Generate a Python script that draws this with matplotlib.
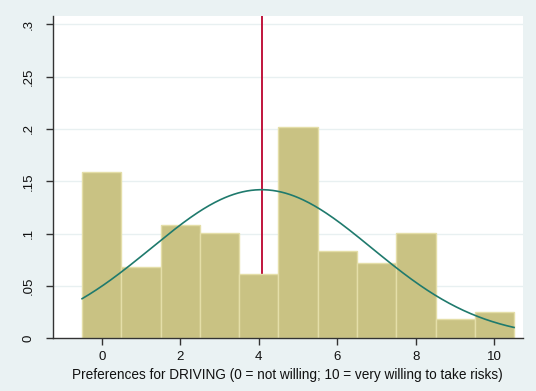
import numpy as np
import matplotlib
matplotlib.use("Agg")
import matplotlib.pyplot as plt

# Histogram of risk preferences (density per integer category)
categories = [0, 1, 2, 3, 4, 5, 6, 7, 8, 9, 10]
density = [0.159, 0.068, 0.108, 0.101, 0.061, 0.202, 0.083, 0.072, 0.101, 0.018, 0.025]

# Normal overlay and mean marker
mean_value = 4.07
sd_value = 2.81

xticks = [0, 2, 4, 6, 8, 10]
yticks = [0, 0.05, 0.1, 0.15, 0.2, 0.25, 0.3]
yticklabels = ["0", ".05", ".1", ".15", ".2", ".25", ".3"]
xlabel = "Preferences for DRIVING (0 = not willing; 10 = very willing to take risks)"

plt.rcParams["font.family"] = ["Liberation Sans", "DejaVu Sans"]

fig = plt.figure(figsize=(5.36, 3.91), dpi=100, facecolor="#EAF2F3")
ax = fig.add_axes([0.0989, 0.1348, 0.8763, 0.8250])
ax.set_facecolor("white")

# horizontal grid
for t in yticks[1:]:
    ax.axhline(t, color="#E8F0F1", lw=1.0, zorder=0)

# mean line (drawn behind bars)
ax.axvline(mean_value, color="#C0143C", lw=1.4, zorder=1)

ax.bar(categories, density, width=1.0, color="#C9C283", edgecolor="#E4DEA8",
       linewidth=1.0, zorder=2)

xs = np.linspace(-0.5, 10.5, 300)
pdf = np.exp(-0.5 * ((xs - mean_value) / sd_value) ** 2) / (sd_value * np.sqrt(2 * np.pi))
ax.plot(xs, pdf, color="#1F7A6D", lw=1.2, zorder=3)

ax.set_xlim(-1.24, 10.72)
ax.set_ylim(0, 0.3082)
ax.set_xticks(xticks)
ax.set_yticks(yticks)
ax.set_yticklabels(yticklabels, rotation=90, va="center")
ax.tick_params(axis="both", labelsize=9.5, color="#333333", length=5, width=1,
               labelcolor="#111111")
ax.tick_params(axis="x", pad=4)
ax.tick_params(axis="y", pad=8)
ax.set_xlabel(xlabel, fontsize=9.8, color="#111111", labelpad=4)

for s in ["top", "right"]:
    ax.spines[s].set_visible(False)
for s in ["left", "bottom"]:
    ax.spines[s].set_color("#333333")
    ax.spines[s].set_linewidth(1.0)

fig.savefig("out.png", dpi=100, facecolor=fig.get_facecolor())
